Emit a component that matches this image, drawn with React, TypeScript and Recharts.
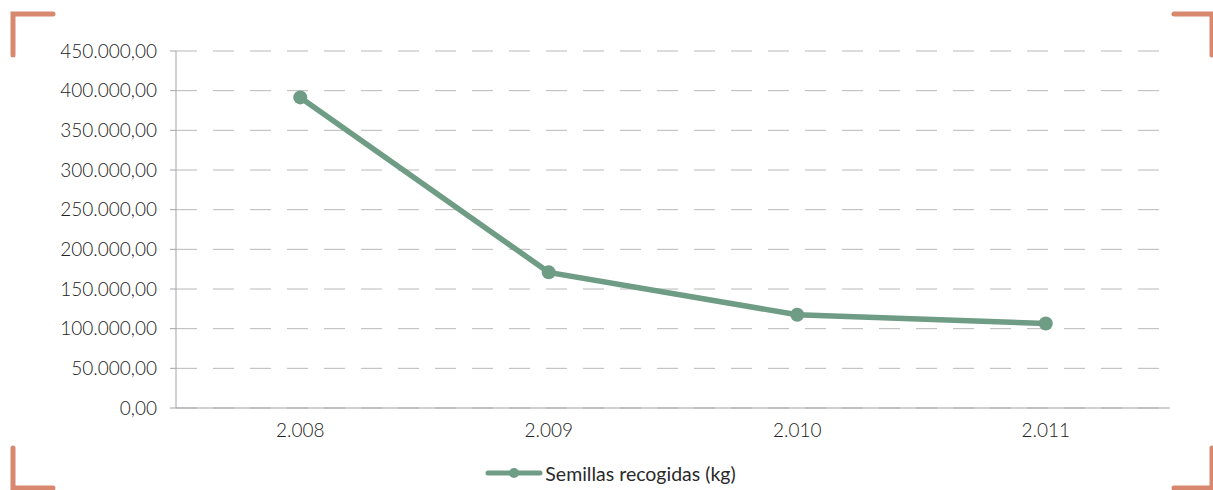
import { LineChart, Line, XAxis, YAxis, CartesianGrid, Legend } from "recharts";

// años y kg de semillas recogidas
const years = [2008, 2009, 2010, 2011];
const seeds = [391500, 171000, 117500, 106500];
const yTicks = [0, 50000, 100000, 150000, 200000, 250000, 300000, 350000, 400000, 450000];
const bandEdges = [2007.5, 2008.5, 2009.5, 2010.5, 2011.5];
const seriesName = "Semillas recogidas (kg)";

const data = years.map((year, i) => ({ year, seeds: seeds[i] }));

const GREEN = "#6e9c84";
const AXIS = "#a3a3ab";
const TEXT = "#222222";
const FONT = "Lato, 'Open Sans', sans-serif";

const group = (s: string) => s.replace(/\B(?=(\d{3})+(?!\d))/g, ".");
const fmtValue = (v: number) => {
  const [int, dec] = v.toFixed(2).split(".");
  return group(int) + "," + dec;
};
const fmtYear = (v: number) => group(String(v));

const LegendContent = () => (
  <div
    style={{
      height: 38,
      display: "flex",
      alignItems: "center",
      justifyContent: "center",
      paddingTop: 4,
      paddingLeft: 8,
      boxSizing: "border-box",
      fontFamily: FONT,
      fontSize: 19.5,
      color: "#2a2a2a",
    }}
  >
    <svg width={58} height={14} style={{ marginRight: 2 }}>
      <line x1={3} y1={7} x2={55} y2={7} stroke={GREEN} strokeWidth={5} strokeLinecap="round" />
      <circle cx={29} cy={7} r={5} fill={GREEN} />
    </svg>
    <span>{seriesName}</span>
  </div>
);

// esquinas decorativas
const Corners = () => {
  const c = "#d98870";
  const p = { stroke: c, strokeWidth: 5, strokeLinecap: "round" as const, fill: "none" };
  return (
    <svg width={1213} height={490} style={{ position: "absolute", left: 0, top: 0, pointerEvents: "none" }}>
      <polyline points="13,55 13,14 53,14" {...p} />
      <polyline points="1174,14 1212,14 1212,55" {...p} />
      <polyline points="13,448 13,488 53,488" {...p} />
      <polyline points="1174,488 1212,488 1212,448" {...p} />
    </svg>
  );
};

export default function App() {
  return (
    <div style={{ position: "absolute", left: 0, top: 0, width: 1213, height: 490, background: "#fff" }}>
      <LineChart width={1213} height={490} data={data} margin={{ top: 51, right: 43, left: 0, bottom: 0 }}>
        <CartesianGrid vertical={false} stroke="#b8b8b8" strokeDasharray="21 16" />
        <YAxis
          width={176}
          domain={[0, 450000]}
          ticks={yTicks}
          interval={0}
          tickFormatter={fmtValue}
          axisLine={{ stroke: AXIS }}
          tickLine={{ stroke: AXIS }}
          tickSize={6}
          tickMargin={13}
          tick={{ fill: TEXT, fontSize: 19, fontFamily: FONT, fontWeight: 300 }}
        />
        <XAxis
          xAxisId="edges"
          type="number"
          dataKey="year"
          domain={[2007.5, 2011.5]}
          ticks={bandEdges}
          interval={0}
          tick={false}
          tickSize={14}
          height={14}
          axisLine={{ stroke: AXIS }}
          tickLine={{ stroke: AXIS }}
        />
        <XAxis
          xAxisId="labels"
          type="number"
          dataKey="year"
          domain={[2007.5, 2011.5]}
          ticks={years}
          interval={0}
          tickFormatter={fmtYear}
          axisLine={false}
          tickLine={false}
          tickSize={0}
          tickMargin={2}
          height={30}
          tick={{ fill: TEXT, fontSize: 19, fontFamily: FONT, fontWeight: 300 }}
        />
        <Legend
          verticalAlign="bottom"
          content={<LegendContent />}
          wrapperStyle={{ left: 0, width: 1213 }}
        />
        <Line
          xAxisId="edges"
          type="linear"
          dataKey="seeds"
          name={seriesName}
          stroke={GREEN}
          strokeWidth={5.5}
          dot={{ r: 7, fill: GREEN, stroke: "none" }}
          isAnimationActive={false}
        />
      </LineChart>
      <Corners />
    </div>
  );
}
